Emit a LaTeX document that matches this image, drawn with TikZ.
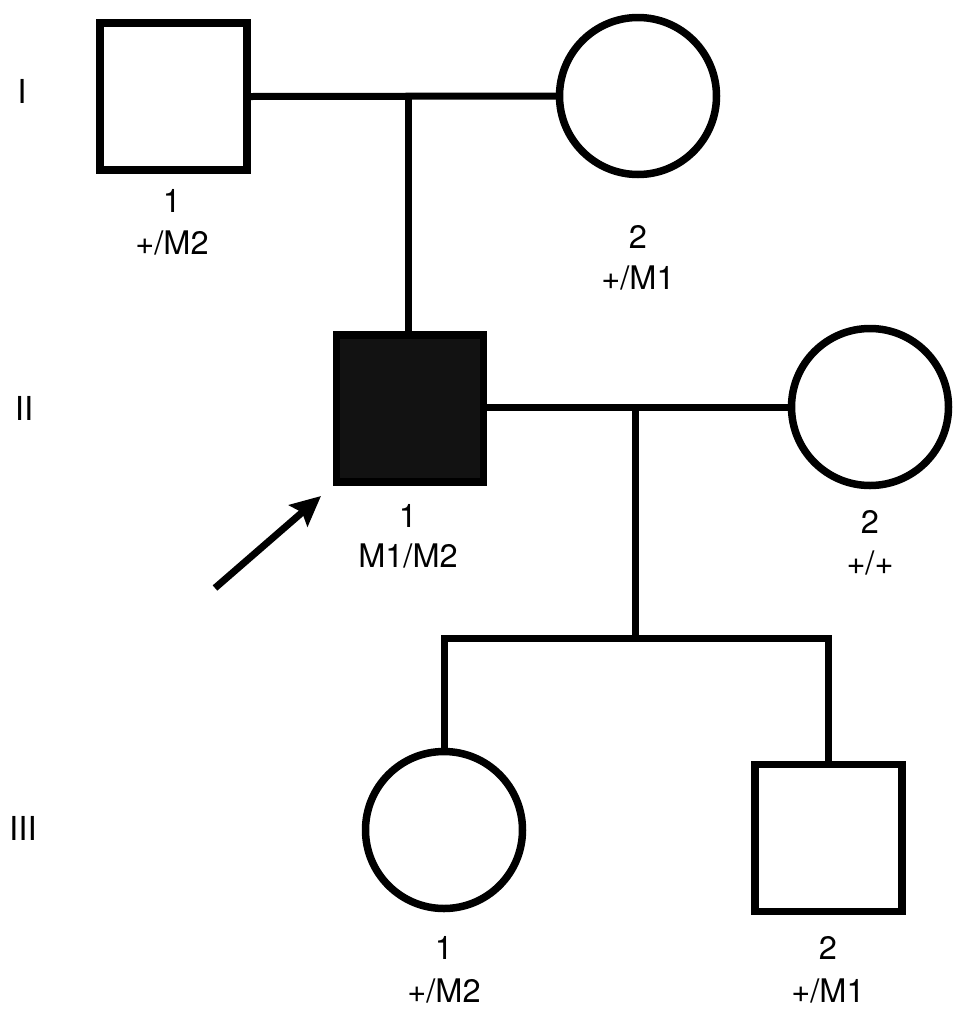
\documentclass[tikz,border=0pt]{standalone}
\usepackage{fontspec}
\setmainfont{TeX Gyre Heros}
\usetikzlibrary{arrows.meta}
\definecolor{affected}{HTML}{121212}
\begin{document}
\begin{tikzpicture}[x=1pt,y=-1pt,
  male/.style={draw, line width=7.5pt, rectangle, minimum size=147pt, inner sep=0pt},
  female/.style={draw, line width=7.5pt, circle, minimum size=157pt, inner sep=0pt},
  link/.style={line width=7pt, line join=miter},
  lbl/.style={font=\fontsize{32.5}{38}\selectfont, inner sep=0pt},
  gen/.style={font=\fontsize{33}{38}\selectfont, inner sep=0pt}]
\useasboundingbox[fill=white] (0,0) rectangle (969,1018);
% generation labels
\node[gen] (gI) at (22,91) {I};
\node[gen] (gII) at (24,408) {II};
\node[gen] (gIII) at (23,828) {III};
% individuals
\node[male] (i1) at (173.5,96.5) {};
\node[female] (i2) at (638,96) {};
\node[male, fill=affected] (ii1) at (410,408.5) {};
\node[female] (ii2) at (870,407) {};
\node[female] (iii1) at (444,830) {};
\node[male] (iii2) at (828.5,838) {};
% labels
\node[lbl] (l11) at (172,201) {1};
\node[lbl] (g11) at (172,243) {+/M2};
\node[lbl] (l12) at (638,237) {2};
\node[lbl] (g12) at (638,278) {+/M1};
\node[lbl] (l21) at (408,516) {1};
\node[lbl] (g21) at (408,556) {M1/M2};
\node[lbl] (l22) at (870,522) {2};
\node[lbl] (g22) at (870,563) {+/+};
\node[lbl] (l31) at (444,948) {1};
\node[lbl] (g31) at (444,991) {+/M2};
\node[lbl] (l32) at (828,948) {2};
\node[lbl] (g32) at (828,991) {+/M1};
% connector coordinates
\coordinate (m1) at (408,96.5);
\coordinate (m2) at (635,407);
\coordinate (sib) at (635,638);
% connectors
\draw[link] (i1.east) -- (i2.west);
\draw[link] (m1) -- (m1 |- ii1.north);
\draw[link] (ii1.east |- m2) -- (ii2.west);
\draw[link] (m2) -- (sib);
\draw[link] (iii1.north) -- (iii1.north |- sib) -- (iii2.north |- sib) -- (iii2.north);
% proband arrow
\coordinate (atail) at (215,588);
\coordinate (ahead) at (321,496);
\draw[line width=7pt, -{Stealth[length=30pt,width=28pt,inset=5pt]}] (atail) -- (ahead);
\end{tikzpicture}
\end{document}
